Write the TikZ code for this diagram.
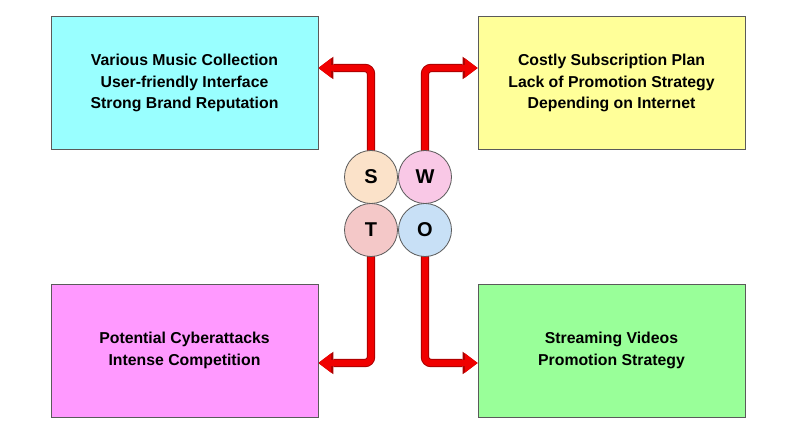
\documentclass[tikz,border=0pt]{standalone}
\usepackage{fontspec}
\setmainfont{Liberation Sans}
\usetikzlibrary{arrows.meta,backgrounds}
\definecolor{cyanbox}{RGB}{153,255,255}
\definecolor{yellowbox}{RGB}{255,255,153}
\definecolor{magbox}{RGB}{255,153,255}
\definecolor{greenbox}{RGB}{153,255,153}
\definecolor{sfill}{RGB}{251,226,201}
\definecolor{wfill}{RGB}{249,200,230}
\definecolor{tfill}{RGB}{244,200,200}
\definecolor{ofill}{RGB}{200,224,246}
\definecolor{edgegray}{RGB}{90,90,90}
\definecolor{arrred}{RGB}{240,0,0}
\definecolor{arrdark}{RGB}{170,0,0}
\tikzset{
  swotbox/.style={draw=edgegray, line width=0.8pt, minimum width=267pt, minimum height=133pt,
    align=center, font=\fontsize{15.8}{21.5}\selectfont\bfseries, inner sep=0pt},
  letter/.style={circle, draw=edgegray, line width=0.8pt, minimum size=53pt, inner sep=0pt,
    font=\fontsize{20}{24}\selectfont\bfseries},
  arrouter/.style={draw=arrdark, line width=8.4pt, rounded corners=6pt,
    -{Triangle[width=22.5pt,length=15pt,line width=0pt]}},
  arrinner/.style={draw=arrred, line width=6.4pt, rounded corners=6pt,
    -{Triangle[width=19.5pt,length=12.8pt,line width=0pt]}},
}
\begin{document}
\begin{tikzpicture}[x=1pt,y=1pt]
\useasboundingbox (0,0) rectangle (800,436);
% boxes
\node[swotbox, fill=cyanbox] (str) at (184.5,353) {Various Music Collection\\User-friendly Interface\\Strong Brand Reputation};
\node[swotbox, fill=yellowbox] (wea) at (611.5,353) {Costly Subscription Plan\\Lack of Promotion Strategy\\Depending on Internet};
\node[swotbox, fill=magbox] (thr) at (184.5,85.5) {Potential Cyberattacks\\Intense Competition};
\node[swotbox, fill=greenbox] (opp) at (611.5,85.5) {Streaming Videos\\Promotion Strategy};
% circles
\node[letter, fill=sfill] (S) at (371,259) {S};
\node[letter, fill=wfill] (W) at (425,259) {W};
\node[letter, fill=tfill] (T) at (371,206) {T};
\node[letter, fill=ofill] (O) at (425,206) {O};
% arrows, behind the circles
\begin{pgfonlayer}{background}
\fill[white] (0,0) rectangle (800,436);
\foreach \a/\b/\c in {S/north/str.east, W/north/wea.west}{
  \draw[arrouter] (\a.center) |- ([yshift=15pt]\c);
  \draw[arrinner] (\a.center) |- ([yshift=15pt]\c);
}
\foreach \a/\b/\c in {T/south/thr.east, O/south/opp.west}{
  \draw[arrouter] (\a.center) |- ([yshift=-12.5pt]\c);
  \draw[arrinner] (\a.center) |- ([yshift=-12.5pt]\c);
}
\end{pgfonlayer}
\end{tikzpicture}
\end{document}
